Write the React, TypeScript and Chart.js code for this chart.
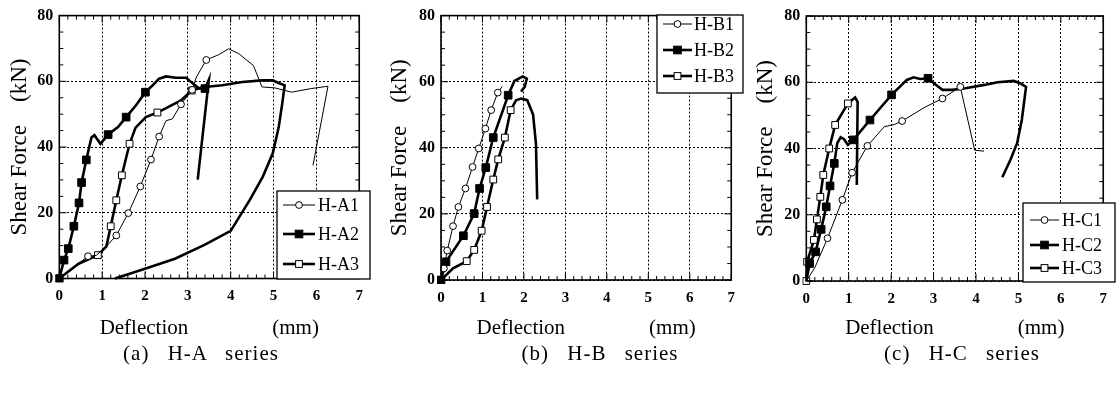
import React, { useEffect, useRef } from 'react';
import { Chart, registerables } from 'chart.js';

Chart.register(...registerables);

// ---------- tick labels / text ----------
const xTickValues = [0, 1, 2, 3, 4, 5, 6, 7];
const yTickValues = [0, 20, 40, 60, 80];
const yAxisTitle = 'Shear Force    (kN)';
const xAxisTitle = 'Deflection                (mm)';
const captions = ['(a) H-A series', '(b) H-B series', '(c) H-C series'];

// ---------- Panel A: H-A series ----------
const a1Label = 'H-A1';
const a1X = [0, 0.67, 0.86, 1.1, 1.33, 1.61, 1.89, 2.14, 2.33, 2.49, 2.64, 2.84, 3.1, 3.2, 3.43, 3.72, 3.95, 4.19, 4.53, 4.73, 5.03, 5.42, 5.88, 6.27, 5.92];
const a1Y = [0, 6.8, 7.0, 9.8, 13.1, 19.9, 28.0, 36.2, 43.2, 48.0, 48.6, 53.0, 57.4, 61.3, 66.5, 68.1, 69.9, 68.4, 64.8, 58.3, 58.0, 56.7, 57.8, 58.5, 34.4];
const a1Marks = [1, 4, 5, 6, 7, 8, 11, 12, 14];

const a2Label = 'H-A2';
const a2X = [0, 0.11, 0.21, 0.34, 0.46, 0.52, 0.63, 0.75, 0.82, 0.96, 1.14, 1.37, 1.56, 1.79, 2.01, 2.18, 2.33, 2.49, 2.72, 2.96, 3.12, 3.26, 3.40, 3.49, 3.23];
const a2Y = [0, 5.6, 9.1, 15.9, 23.0, 29.2, 36.1, 42.9, 43.6, 41.0, 43.8, 46.1, 49.1, 52.7, 56.7, 58.8, 60.8, 61.5, 61.1, 61.1, 59.3, 57.8, 57.8, 60.5, 30.1];
const a2Marks = [0, 1, 2, 3, 4, 5, 6, 10, 12, 14, 22];

const a3Label = 'H-A3';
const a3X = [0, 0.45, 0.9, 1.1, 1.2, 1.33, 1.46, 1.64, 1.78, 2.02, 2.29, 2.57, 2.84, 3.09, 3.34, 3.8, 4.27, 4.73, 4.98, 5.12, 5.26, 5.2, 5.12, 4.98, 4.75, 4.45, 4.0, 3.4, 2.7, 2.0, 1.3];
const a3Y = [0, 4.5, 7.1, 9.8, 15.9, 23.8, 31.4, 41.0, 45.9, 49.1, 50.5, 52.4, 54.2, 57.2, 58.2, 58.8, 59.8, 60.3, 60.3, 59.5, 58.8, 53.0, 46.0, 38.0, 31.0, 24.0, 14.5, 10.3, 6.0, 3.0, 0];
const a3Marks = [2, 4, 5, 6, 7, 10, 13];

// ---------- Panel B: H-B series ----------
const b1Label = 'H-B1';
const b1X = [0, 0.07, 0.15, 0.29, 0.42, 0.59, 0.76, 0.91, 1.07, 1.21, 1.37, 1.48];
const b1Y = [0, 3.5, 8.9, 16.3, 22.1, 27.7, 34.2, 39.8, 45.8, 51.4, 56.7, 58.6];
const b1Marks = [1, 2, 3, 4, 5, 6, 7, 8, 9, 10];

const b2Label = 'H-B2';
const b2X = [0, 0.12, 0.54, 0.8, 0.93, 1.08, 1.26, 1.62, 1.77, 1.97, 2.07, 2.02, 1.93];
const b2Y = [0, 5.5, 13.4, 20.1, 27.7, 34.0, 43.1, 55.9, 60.2, 61.6, 60.9, 58.5, 57.0];
const b2Marks = [0, 1, 2, 3, 4, 5, 6, 7];

const b3Label = 'H-B3';
const b3X = [0, 0.29, 0.62, 0.8, 0.98, 1.11, 1.26, 1.38, 1.54, 1.68, 1.81, 1.93, 2.08, 2.22, 2.29, 2.32];
const b3Y = [0, 3.5, 5.7, 9.1, 14.9, 22.1, 30.4, 36.5, 43.1, 51.4, 54.4, 54.9, 54.4, 50.1, 41.3, 24.4];
const b3Marks = [0, 2, 3, 4, 5, 6, 7, 8, 9];

// ---------- Panel C: H-C series ----------
const c1Label = 'H-C1';
const c1X = [0, 0.2, 0.5, 0.85, 1.08, 1.44, 1.84, 2.07, 2.26, 2.8, 3.21, 3.63, 3.97, 4.19];
const c1Y = [0, 4.0, 12.9, 24.5, 32.7, 40.8, 46.6, 47.2, 48.3, 52.5, 55.1, 58.6, 39.5, 39.2];
const c1Marks = [2, 3, 4, 5, 8, 10, 11];

const c2Label = 'H-C2';
const c2X = [0, 0.08, 0.22, 0.35, 0.47, 0.56, 0.66, 0.73, 0.81, 0.89, 0.98, 1.11, 1.5, 2.01, 2.37, 2.53, 2.68, 2.87, 3.06, 3.21, 3.44, 3.75, 4.2, 4.51, 4.89, 5.04, 5.18, 5.08, 4.97, 4.81, 4.62];
const c2Y = [0, 5.3, 8.8, 15.6, 22.4, 28.7, 35.5, 41.6, 43.4, 42.8, 41.1, 42.6, 48.6, 56.2, 60.7, 61.5, 61.0, 61.2, 59.2, 57.7, 57.7, 58.2, 59.2, 60.0, 60.4, 59.7, 58.6, 48.6, 41.6, 36.5, 31.3];
const c2Marks = [1, 2, 3, 4, 5, 6, 11, 12, 13, 17];

const c3Label = 'H-C3';
const c3X = [0, 0.02, 0.18, 0.25, 0.33, 0.4, 0.54, 0.68, 0.98, 1.15, 1.21, 1.19];
const c3Y = [0, 5.8, 12.4, 18.6, 25.4, 32.0, 40.0, 47.1, 53.6, 55.4, 54.1, 29.0];
const c3Marks = [0, 1, 2, 3, 4, 5, 6, 7, 8];

// ---------- styles / layout ----------
const FONT = 'Liberation Serif';
const THIN = { width: 1, point: 'circle', fill: '#ffffff', radius: 3.4 };
const THICK_FILLED = { width: 2.6, point: 'rect', fill: '#000000', radius: 5.4 };
const THICK_OPEN = { width: 2.6, point: 'rect', fill: '#ffffff', radius: 4.8 };

const PANELS = [
  {
    left: 0,
    area: { l: 59.3, r: 361.5, t: 15, b: 278.5 },
    titleX: 20,
    legend: { x: 277, y: 191, w: 93, h: 88, rows: [205, 234, 264], lx0: 283, lx1: 315, tx: 318 },
    series: [
      { label: a1Label, xs: a1X, ys: a1Y, marks: a1Marks, style: THIN },
      { label: a2Label, xs: a2X, ys: a2Y, marks: a2Marks, style: THICK_FILLED },
      { label: a3Label, xs: a3X, ys: a3Y, marks: a3Marks, style: THICK_OPEN },
    ],
  },
  {
    left: 372,
    area: { l: 441, r: 740, t: 15, b: 280 },
    titleX: 400,
    legend: { x: 657, y: 15, w: 86, h: 78, rows: [24, 50, 76], lx0: 663, lx1: 692, tx: 694 },
    series: [
      { label: b1Label, xs: b1X, ys: b1Y, marks: b1Marks, style: THIN },
      { label: b2Label, xs: b2X, ys: b2Y, marks: b2Marks, style: THICK_FILLED },
      { label: b3Label, xs: b3X, ys: b3Y, marks: b3Marks, style: THICK_OPEN },
    ],
  },
  {
    left: 744,
    area: { l: 806.3, r: 1112.5, t: 16, b: 281 },
    titleX: 766,
    legend: { x: 1023, y: 203, w: 92, h: 79, rows: [220, 245, 268], lx0: 1030, lx1: 1059, tx: 1062 },
    series: [
      { label: c1Label, xs: c1X, ys: c1Y, marks: c1Marks, style: THIN },
      { label: c2Label, xs: c2X, ys: c2Y, marks: c2Marks, style: THICK_FILLED },
      { label: c3Label, xs: c3X, ys: c3Y, marks: c3Marks, style: THICK_OPEN },
    ],
  },
];

const CANVAS_W = 372;
const CANVAS_H = 345;

const framePlugin = {
  id: 'frameAndLegend',
  afterDatasetsDraw(chart: any, _args: any, opts: any) {
    const { ctx, chartArea, scales } = chart;
    const { left, right, top, bottom } = chartArea;
    const xs = scales.x;
    const ys = scales.y;
    ctx.save();
    ctx.strokeStyle = '#000';
    ctx.lineWidth = 1;
    ctx.setLineDash([]);
    ctx.beginPath();
    for (let i = 0; i <= 35; i++) {
      const px = xs.getPixelForValue(i * 0.2);
      const len = i % 5 === 0 ? 7 : 4;
      ctx.moveTo(px, bottom);
      ctx.lineTo(px, bottom - len);
      ctx.moveTo(px, top);
      ctx.lineTo(px, top + len);
    }
    for (let j = 0; j <= 16; j++) {
      const py = ys.getPixelForValue(j * 5);
      const len = j % 4 === 0 ? 7 : 4;
      ctx.moveTo(left, py);
      ctx.lineTo(left + len, py);
      ctx.moveTo(right, py);
      ctx.lineTo(right - len, py);
    }
    ctx.stroke();
    ctx.lineWidth = 1.6;
    ctx.strokeRect(left, top, right - left, bottom - top);

    // legend box
    const lg = opts.legend;
    const off = opts.offset;
    if (lg) {
      const bx = lg.x - off;
      ctx.fillStyle = '#fff';
      ctx.fillRect(bx, lg.y, lg.w, lg.h);
      ctx.lineWidth = 1.3;
      ctx.strokeRect(bx, lg.y, lg.w, lg.h);
      chart.data.datasets.forEach((ds: any, i: number) => {
        const yRow = lg.rows[i];
        ctx.lineWidth = ds.borderWidth;
        ctx.strokeStyle = '#000';
        ctx.beginPath();
        ctx.moveTo(lg.lx0 - off, yRow);
        ctx.lineTo(lg.lx1 - off, yRow);
        ctx.stroke();
        const cx = (lg.lx0 + lg.lx1) / 2 - off;
        ctx.lineWidth = 1;
        ctx.fillStyle = ds.pointBackgroundColor;
        if (ds.pointStyle === 'circle') {
          ctx.beginPath();
          ctx.arc(cx, yRow, ds.legendRadius, 0, Math.PI * 2);
          ctx.fill();
          ctx.stroke();
        } else {
          const h = ds.legendRadius * Math.SQRT1_2;
          ctx.fillRect(cx - h, yRow - h, 2 * h, 2 * h);
          ctx.strokeRect(cx - h, yRow - h, 2 * h, 2 * h);
        }
        ctx.fillStyle = '#000';
        ctx.font = `18px "${FONT}"`;
        ctx.textBaseline = 'middle';
        ctx.textAlign = 'left';
        ctx.fillText(ds.label, lg.tx - off, yRow + 1);
      });
    }
    ctx.restore();
  },
};

function Panel({ panel }: { panel: any }) {
  const ref = useRef<HTMLCanvasElement | null>(null);
  useEffect(() => {
    const canvas = ref.current;
    if (!canvas) return;
    const off = panel.left;
    const a = panel.area;
    const datasets = panel.series.map((s: any) => {
      const markSet = new Set(s.marks);
      return {
        label: s.label,
        data: s.xs.map((x: number, i: number) => ({ x, y: s.ys[i] })),
        showLine: true,
        borderColor: '#000',
        borderWidth: s.style.width,
        tension: 0,
        pointStyle: s.style.point,
        pointBackgroundColor: s.style.fill,
        pointBorderColor: '#000',
        pointBorderWidth: 1,
        legendRadius: s.style.radius,
        pointRadius: (ctx: any) => (markSet.has(ctx.dataIndex) ? s.style.radius : 0),
        pointHoverRadius: 0,
        clip: 4,
      };
    });
    const chart = new Chart(canvas, {
      type: 'scatter',
      data: { datasets },
      plugins: [framePlugin],
      options: {
        animation: false,
        responsive: false,
        events: [],
        layout: {
          padding: { left: 0, top: a.t, right: CANVAS_W - (a.r - off), bottom: 0 },
        },
        plugins: {
          legend: { display: false },
          tooltip: { enabled: false },
          frameAndLegend: { legend: panel.legend, offset: off },
        } as any,
        scales: {
          x: {
            type: 'linear',
            min: 0,
            max: 7,
            afterBuildTicks: (axis: any) => {
              axis.ticks = xTickValues.map((v) => ({ value: v }));
            },
            afterFit: (axis: any) => {
              axis.height = CANVAS_H - a.b;
            },
            grid: { color: '#000', lineWidth: 1, drawTicks: false },
            border: { display: false, dash: [2, 2] },
            ticks: {
              color: '#000',
              padding: 9,
              font: { family: FONT, size: 15, weight: 'bold' },
            },
            title: {
              display: true,
              text: xAxisTitle,
              color: '#000',
              font: { family: FONT, size: 21 },
              padding: { top: 0, bottom: 4 },
            },
          },
          y: {
            type: 'linear',
            min: 0,
            max: 80,
            afterBuildTicks: (axis: any) => {
              axis.ticks = yTickValues.map((v) => ({ value: v }));
            },
            afterFit: (axis: any) => {
              axis.width = a.l - off;
            },
            grid: { color: '#000', lineWidth: 1, drawTicks: false },
            border: { display: false, dash: [2, 2] },
            ticks: {
              color: '#000',
              padding: 6,
              font: { family: FONT, size: 16, weight: 'bold' },
            },
            title: {
              display: true,
              text: yAxisTitle,
              color: '#000',
              font: { family: FONT, size: 23 },
              padding: { top: panel.titleX - off - 13.8, bottom: 0 },
            },
          },
        },
      } as any,
    });
    return () => chart.destroy();
  }, [panel]);
  return (
    <canvas
      ref={ref}
      width={CANVAS_W}
      height={CANVAS_H}
      style={{ position: 'absolute', left: panel.left, top: 0, width: CANVAS_W, height: CANVAS_H }}
    />
  );
}

export default function App() {
  const captionCenters = [201, 600, 962];
  return (
    <div
      style={{
        position: 'absolute',
        left: 0,
        top: 0,
        width: 1116,
        height: 396,
        background: '#fff',
        overflow: 'hidden',
      }}
    >
      {PANELS.map((p, i) => (
        <Panel key={i} panel={p} />
      ))}
      {captions.map((c, i) => (
        <div
          key={c}
          style={{
            position: 'absolute',
            left: captionCenters[i] - 150,
            width: 300,
            top: 341,
            textAlign: 'center',
            fontFamily: FONT,
            fontSize: 21,
            letterSpacing: 1,
            wordSpacing: 12,
            color: '#000',
            whiteSpace: 'pre',
          }}
        >
          {c}
        </div>
      ))}
    </div>
  );
}
